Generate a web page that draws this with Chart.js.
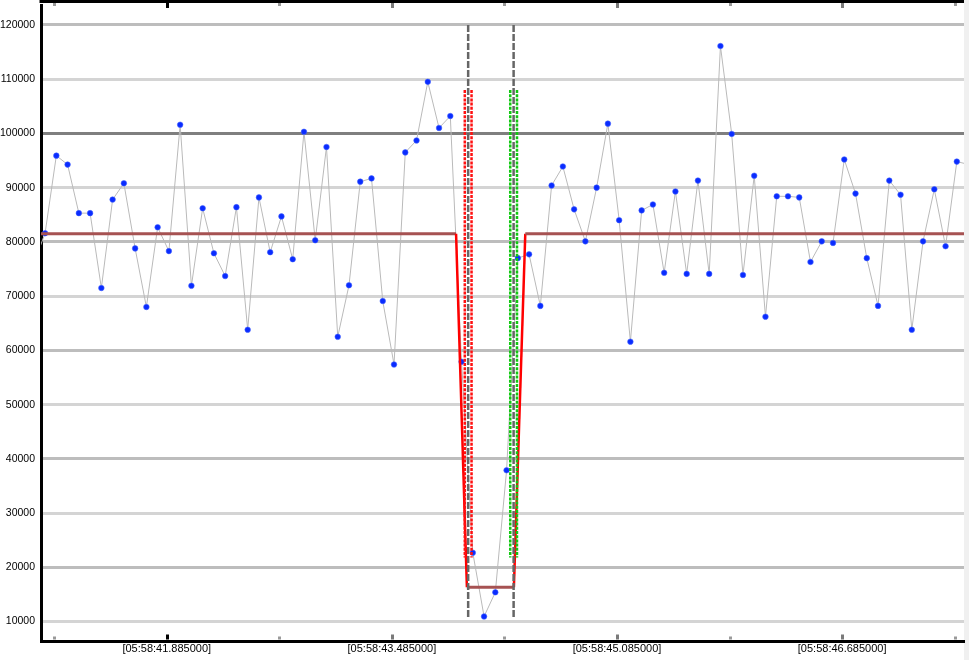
<!DOCTYPE html>
<html>
<head>
<meta charset="utf-8">
<script src="https://cdn.jsdelivr.net/npm/chart.js@4.4.1/dist/chart.umd.min.js"></script>
<style>
  html, body { margin: 0; padding: 0; background: #fff; }
  #wrap { width: 969px; height: 660px; }
</style>
</head>
<body>
<div id="wrap"><canvas id="c" width="969" height="660"></canvas></div>
<script>
// sample times, seconds after 05:58
const times = [
  40.940, 41.020, 41.100, 41.180, 41.260, 41.340, 41.420, 41.500, 41.580, 41.660,
  41.740, 41.820, 41.900, 41.980, 42.060, 42.140, 42.220, 42.300, 42.380, 42.460,
  42.540, 42.620, 42.700, 42.780, 42.860, 42.940, 43.020, 43.100, 43.180, 43.260,
  43.340, 43.420, 43.500, 43.580, 43.660, 43.740, 43.820, 43.900, 43.980, 44.060,
  44.140, 44.220, 44.300, 44.380, 44.460, 44.540, 44.620, 44.700, 44.780, 44.860,
  44.940, 45.020, 45.100, 45.180, 45.260, 45.340, 45.420, 45.500, 45.580, 45.660,
  45.740, 45.820, 45.900, 45.980, 46.060, 46.140, 46.220, 46.300, 46.380, 46.460,
  46.540, 46.620, 46.700, 46.780, 46.860, 46.940, 47.020, 47.100, 47.180, 47.260,
  47.340, 47.420, 47.500, 47.580
];
const values = [
  76000, 81600, 95900, 94250, 85300, 85300, 71500, 87800, 90800, 78800,
  68000, 82700, 78300, 101600, 71900, 86200, 77900, 73700, 86400, 63800,
  88200, 78100, 84700, 76800, 100300, 80300, 97500, 62500, 72000, 91100,
  91700, 69100, 57400, 96500, 98700, 109500, 101000, 103200, 57900, 22700,
  10950, 15400, 37900, 77000, 77700, 68200, 90400, 93900, 86000, 80100,
  90000, 101800, 84000, 61600, 85800, 86900, 74300, 89300, 74100, 91300,
  74100, 116100, 99900, 73900, 92200, 66200, 88400, 88400, 88200, 76300,
  80100, 79800, 95200, 88900, 77000, 68200, 91300, 88700, 63800, 80100,
  89700, 79200, 94800, 94300
];

const yTicks = [10000, 20000, 30000, 40000, 50000, 60000, 70000, 80000, 90000, 100000, 110000, 120000];
const xMajorTicks = [41.885, 43.485, 45.085, 46.685];
const xMinorTicks = [41.085, 42.685, 44.285, 45.885, 47.485];
const xRange = [40.991, 47.551];
const yRange = [6422, 123670];

// limit envelope: 81500 with a dip down to 16330 between the markers
const envTimes  = [40.5, 43.941, 44.018, 44.352, 44.433, 48.0];
const envValues = [81500, 81500, 16330, 16330, 81500, 81500];

// marker lines and their bands
const markerTimes = [44.027, 44.350];
const markerRange = [120000, 10800];
const redBand   = [44.003, 44.051];
const greenBand = [44.326, 44.374];
const bandRange = [108000, 21800];

const vline = (x, r) => [{ x: x, y: r[0] }, { x: x, y: r[1] }];

const datasets = [
  {
    data: times.map((t, i) => ({ x: t, y: values[i] })),
    borderColor: '#bababa', borderWidth: 1,
    pointRadius: 2.8, pointBackgroundColor: '#0a2cff',
    pointBorderColor: 'rgba(70,100,255,0.55)', pointBorderWidth: 1,
    order: 10,
  },
  {
    data: envTimes.map((t, i) => ({ x: t, y: envValues[i] })),
    pointRadius: 0, borderWidth: 3, borderColor: '#a65252',
    segment: {
      borderColor: c => c.p0.parsed.y === c.p1.parsed.y ? '#a65252' : '#ff0000',
      borderWidth: c => c.p0.parsed.y === c.p1.parsed.y ? 3 : 2.5,
    },
    order: 4,
  },
];
markerTimes.forEach(x => datasets.push({
  data: vline(x, markerRange), pointRadius: 0,
  borderColor: '#666666', borderWidth: 2.5, borderDash: [7, 2], order: 3,
}));
redBand.forEach(x => datasets.push({
  data: vline(x, bandRange), pointRadius: 0,
  borderColor: '#ff1010', borderWidth: 2.5, borderDash: [3, 1.2], order: 2,
}));
greenBand.forEach(x => datasets.push({
  data: vline(x, bandRange), pointRadius: 0,
  borderColor: '#10c810', borderWidth: 2.5, borderDash: [3, 1.2], order: 2,
}));

// top border, small tick marks on top/bottom edge, grey strip at right
const framePlugin = {
  id: 'frame',
  beforeDraw(chart) {
    const { ctx, chartArea: a, width, height } = chart;
    ctx.save();
    ctx.fillStyle = '#f0f0f0';
    ctx.fillRect(a.right, 0, width - a.right, height);
    ctx.restore();
  },
  afterDraw(chart) {
    const { ctx, chartArea: a } = chart;
    const xs = chart.scales.x;
    ctx.save();
    ctx.fillStyle = '#000';
    ctx.fillRect(a.left - 1.5, 0, a.right - a.left + 1.5, 3);
    const mark = (v, len, col) => {
      const px = Math.round(xs.getPixelForValue(v)) - 1;
      ctx.fillStyle = col;
      ctx.fillRect(px, a.bottom - 1.5 - len, 3, len);
      ctx.fillRect(px, 3, 3, len);
    };
    xMinorTicks.forEach(v => mark(v, 3, '#9a9a9a'));
    xMajorTicks.forEach((v, i) => mark(v, 5, i === 0 ? '#000' : '#7a7a7a'));
    ctx.restore();
  },
};

new Chart(document.getElementById('c'), {
  type: 'line',
  data: { datasets },
  plugins: [framePlugin],
  options: {
    responsive: false,
    animation: false,
    layout: { padding: { top: 2, right: 5, left: 0, bottom: 0 } },
    plugins: { legend: { display: false }, tooltip: { enabled: false } },
    scales: {
      x: {
        type: 'linear', min: xRange[0], max: xRange[1],
        afterBuildTicks: s => { s.ticks = xMajorTicks.map(v => ({ value: v })); },
        afterFit: s => { s.height = 19; s.paddingLeft = 0; s.paddingRight = 0; },
        grid: { display: false, drawTicks: false },
        border: { display: true, color: '#000', width: 3 },
        ticks: {
          padding: 1, maxRotation: 0, autoSkip: false, color: '#000',
          font: { family: 'Liberation Sans', size: 11 },
          callback: v => '[05:58:' + Number(v).toFixed(6) + ']',
        },
      },
      y: {
        type: 'linear', min: yRange[0], max: yRange[1],
        afterBuildTicks: s => { s.ticks = yTicks.map(v => ({ value: v })); },
        afterFit: s => { s.width = 41; s.paddingTop = 0; s.paddingBottom = 0; },
        grid: {
          drawTicks: false, lineWidth: 3,
          color: c => {
            const v = c.tick ? c.tick.value : 0;
            if (v === 100000) return '#7f7f7f';
            return ((120000 - v) / 10000) % 2 === 0 ? '#bdbdbd' : '#d4d4d4';
          },
        },
        border: { display: true, color: '#000', width: 3 },
        ticks: {
          padding: 6, color: '#000',
          font: { family: 'Liberation Sans', size: 10.5 },
          callback: v => String(v),
        },
      },
    },
  },
});
</script>
</body>
</html>
